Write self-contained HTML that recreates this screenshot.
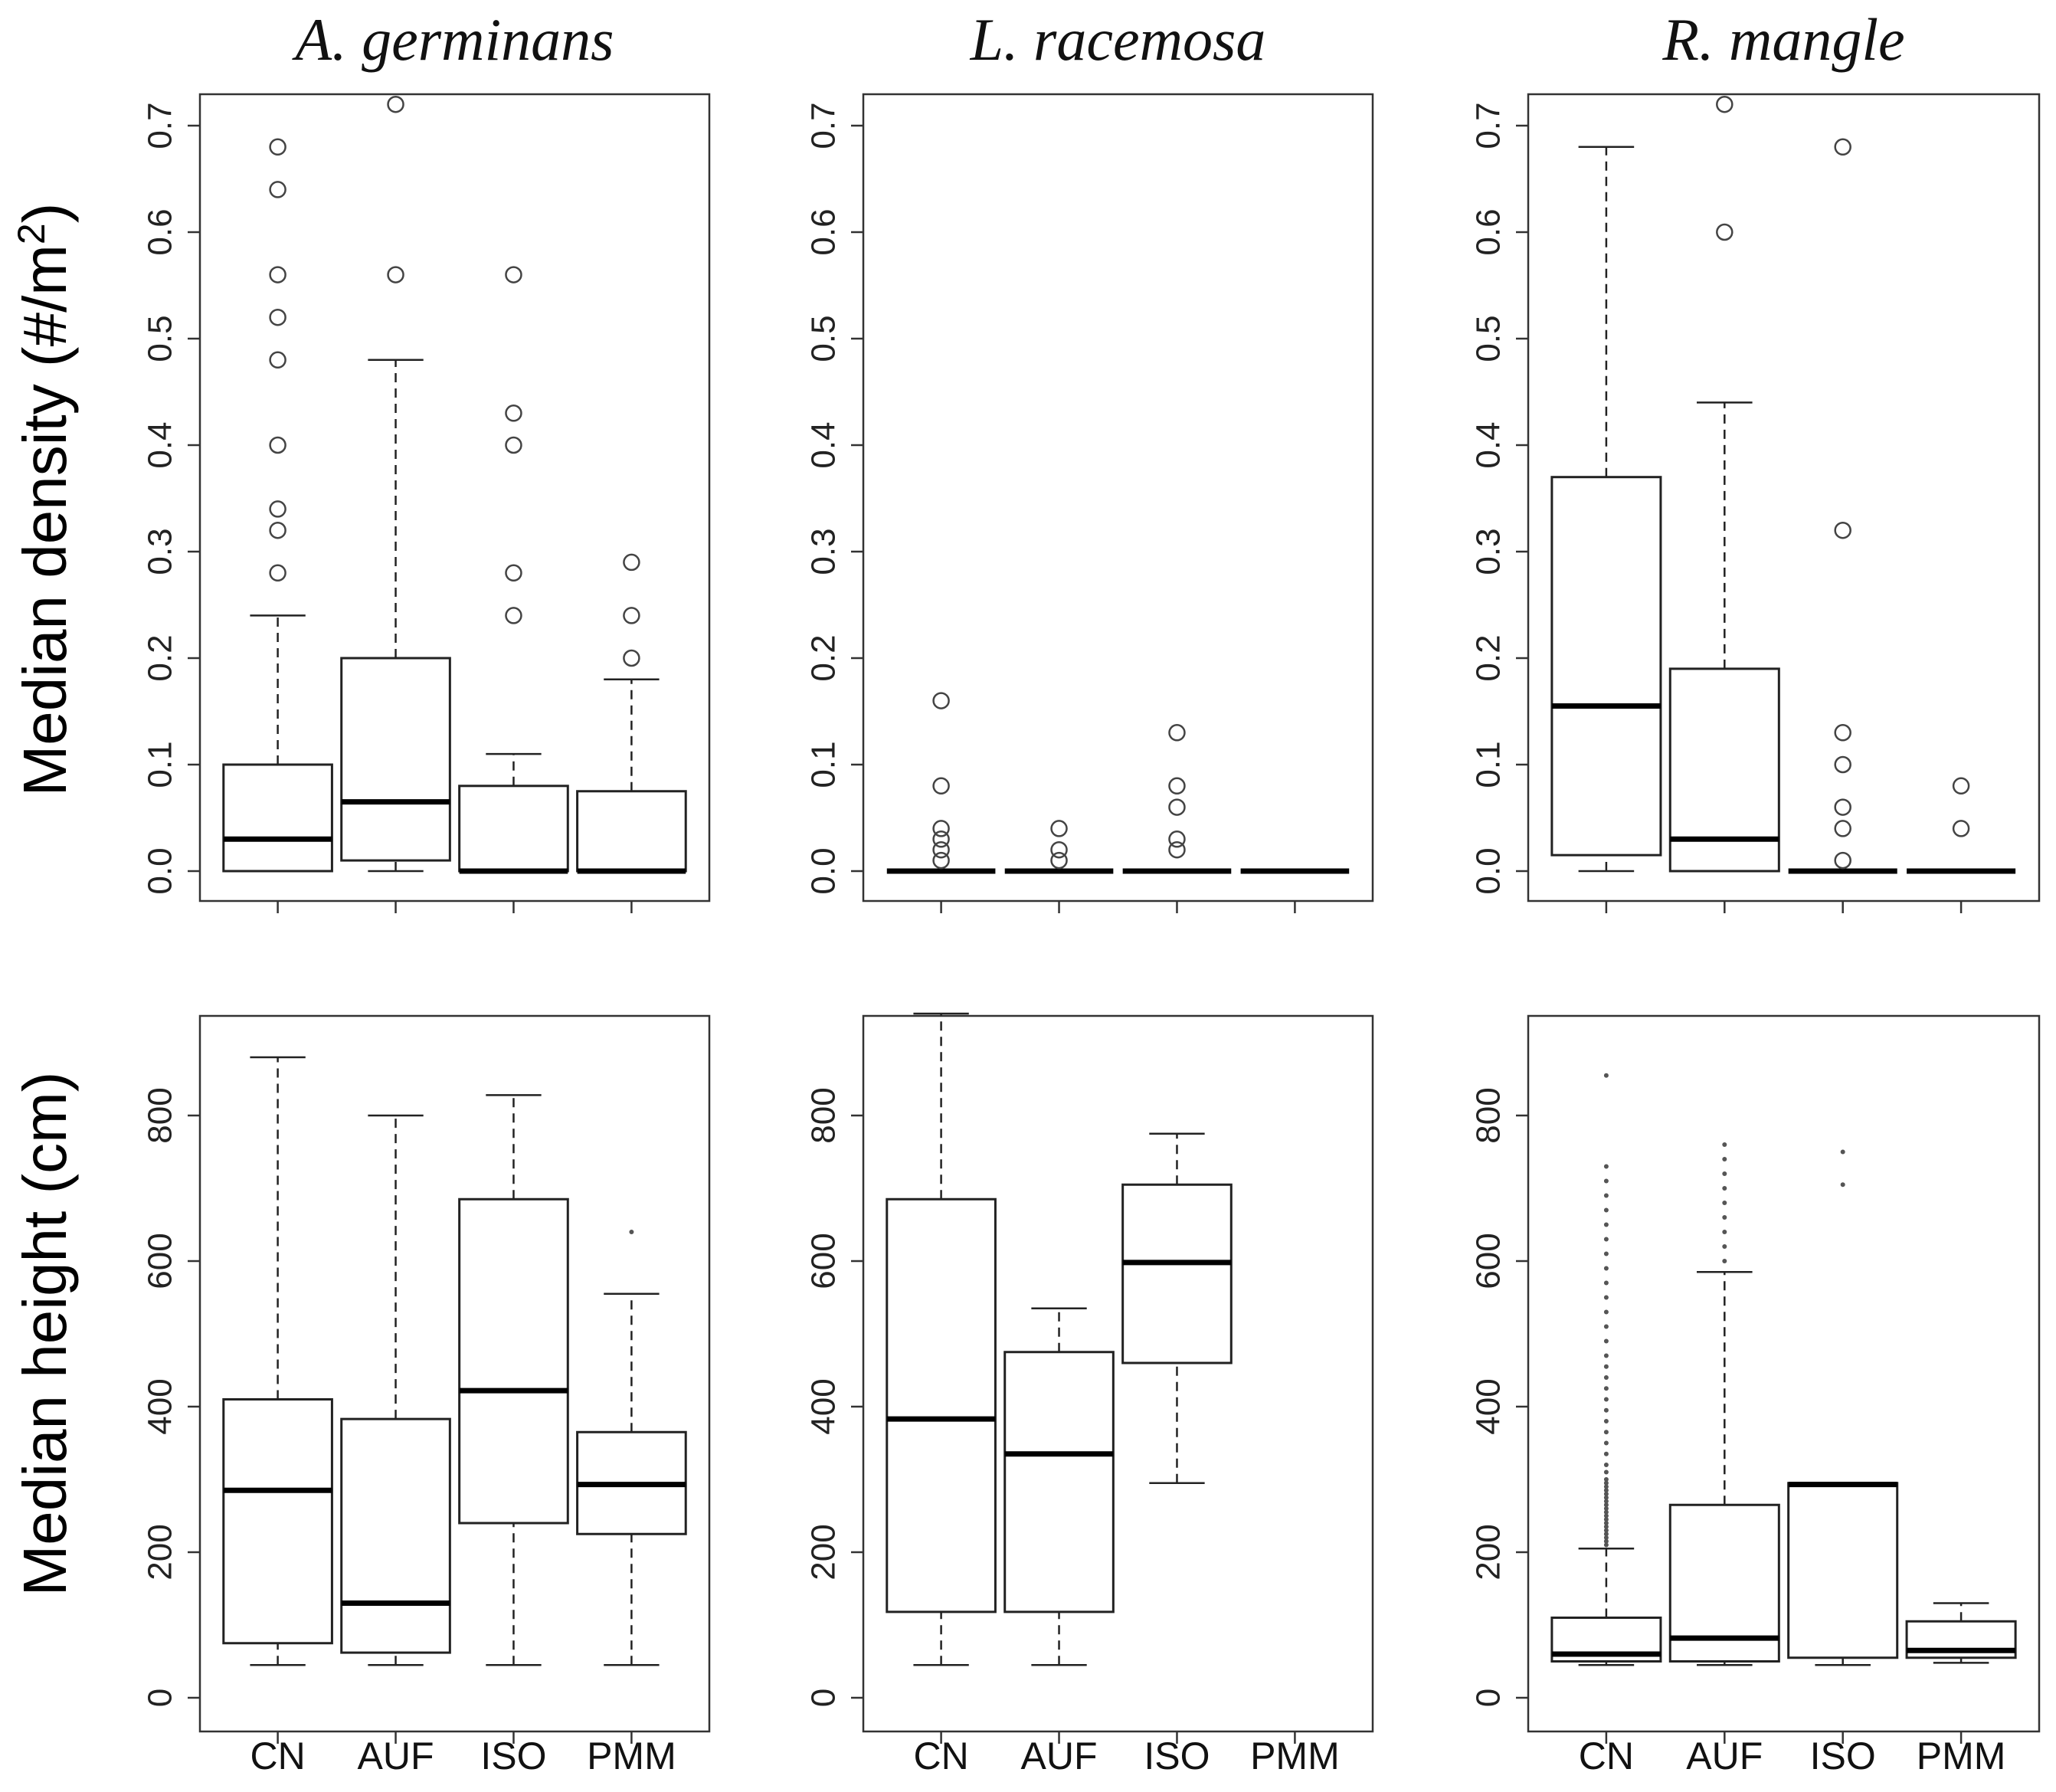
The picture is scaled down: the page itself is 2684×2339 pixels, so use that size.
<!DOCTYPE html>
<html><head><meta charset="utf-8"><style>
html,body{margin:0;padding:0;background:#fff;}
svg{display:block;}
</style></head><body>
<svg id="fig" width="2684" height="2339" viewBox="0 0 2684 2339" xmlns="http://www.w3.org/2000/svg"></svg>
<script>
const categories = ["CN","AUF","ISO","PMM"];
const species = ["A. germinans","L. racemosa","R. mangle"];
const densityTicks = [0,0.1,0.2,0.3,0.4,0.5,0.6,0.7];
const densityTickLabels = ["0.0","0.1","0.2","0.3","0.4","0.5","0.6","0.7"];
const heightTicks = [0,200,400,600,800];
const heightTickLabels = ["0","200","400","600","800"];
// [whiskLow, q1, median, q3, whiskHigh]
const agDensity = [[0,0,0.03,0.1,0.24],[0,0.01,0.065,0.2,0.48],[0,0,0,0.08,0.11],[0,0,0,0.075,0.18]];
const agDensityOut = [[0.28,0.32,0.34,0.40,0.48,0.52,0.56,0.64,0.68],[0.56,0.72],[0.24,0.28,0.40,0.43,0.56],[0.20,0.24,0.29]];
const lrDensity = [[0,0,0,0,0],[0,0,0,0,0],[0,0,0,0,0],[0,0,0,0,0]];
const lrDensityOut = [[0.01,0.02,0.03,0.04,0.08,0.16],[0.01,0.02,0.04],[0.02,0.03,0.06,0.08,0.13],[]];
const rmDensity = [[0,0.015,0.155,0.37,0.68],[0,0,0.03,0.19,0.44],[0,0,0,0,0],[0,0,0,0,0]];
const rmDensityOut = [[],[0.60,0.72],[0.01,0.04,0.06,0.10,0.13,0.32,0.68],[0.04,0.08]];
const agHeight = [[45,75,285,410,880],[45,62,130,383,800],[45,240,422,685,828],[45,225,293,365,555]];
const agHeightOut = [[],[],[],[640]];
const lrHeight = [[45,118,383,685,940],[45,118,335,475,535],[295,460,598,705,775],null];
const lrHeightOut = [[],[],[],[]];
const rmHeight = [[45,50,60,110,205],[45,50,82,265,585],[45,55,293,295,295],[48,55,65,105,130]];
const rmHeightOut = [[210,215,220,225,230,235,240,245,250,255,260,265,270,275,280,285,290,295,300,310,320,335,350,365,380,395,410,425,440,455,470,490,510,530,550,570,590,610,630,650,670,690,710,730,855],[600,620,640,660,680,700,720,740,760],[705,750],[]];

const NS="http://www.w3.org/2000/svg";
const svg=document.getElementById('fig');
function el(tag,attrs,parent){const e=document.createElementNS(NS,tag);for(const k in attrs)e.setAttribute(k,attrs[k]);(parent||svg).appendChild(e);return e;}

const frames=[[261,926],[1127,1792],[1995,2662]];
const rows=[
 {top:123,bottom:1176,y0:1137,perUnit:1390,ticks:densityTicks,labels:densityTickLabels,data:[agDensity,lrDensity,rmDensity],out:[agDensityOut,lrDensityOut,rmDensityOut],circles:true,name:'density'},
 {top:1326,bottom:2260,y0:2216,perUnit:0.95,ticks:heightTicks,labels:heightTickLabels,data:[agHeight,lrHeight,rmHeight],out:[agHeightOut,lrHeightOut,rmHeightOut],circles:false,name:'height'}
];

rows.forEach((r,ri)=>{
 const ys=v=>r.y0-v*r.perUnit;
 frames.forEach((f,pi)=>{
  const g=el('g',{});
  
  
  const unit=(f[1]-f[0])/4.32;
  const xs=i=>f[0]+(i+1-0.34)*unit;
  const fr=el('rect',{x:f[0],y:r.top,width:f[1]-f[0],height:r.bottom-r.top,fill:'none',stroke:'#333',"stroke-width":2.5},g);
  
  
  r.ticks.forEach((t,ti)=>{
   const y=ys(t);
   el('line',{x1:f[0]-16,x2:f[0],y1:y,y2:y,stroke:'#333',"stroke-width":2.5},g);
   const tx=el('text',{x:0,y:0,transform:`translate(${f[0]-52},${y}) rotate(-90)`,"text-anchor":"middle","dominant-baseline":"central","font-family":"Liberation Sans, sans-serif","font-size":44,fill:'#222'},g);
   tx.textContent=r.labels[ti];
   
   
  });
  categories.forEach((c,ci)=>{
   const x=xs(ci);
   el('line',{x1:x,x2:x,y1:r.bottom,y2:r.bottom+16,stroke:'#333',"stroke-width":2.5},g);
   if(ri===1){
    const lt=el('text',{x:x,y:2309,"text-anchor":"middle","font-family":"Liberation Sans, sans-serif","font-size":50,fill:'#111'},g);
    lt.textContent=c;
    
    
   }
   const d=r.data[pi][ci];
   if(d){
    const hw=0.46*unit, cw=0.235*unit;
    const bg=el('g',{},g);
    
    
    el('line',{x1:x,x2:x,y1:ys(d[0]),y2:ys(d[1]),stroke:'#222',"stroke-width":2.5,"stroke-dasharray":"12,8"},bg);
    el('line',{x1:x,x2:x,y1:ys(d[3]),y2:ys(d[4]),stroke:'#222',"stroke-width":2.5,"stroke-dasharray":"12,8"},bg);
    el('line',{x1:x-cw,x2:x+cw,y1:ys(d[0]),y2:ys(d[0]),stroke:'#222',"stroke-width":2.5},bg);
    el('line',{x1:x-cw,x2:x+cw,y1:ys(d[4]),y2:ys(d[4]),stroke:'#222',"stroke-width":2.5},bg);
    el('rect',{x:x-hw,y:ys(d[3]),width:2*hw,height:Math.max(0,ys(d[1])-ys(d[3])),fill:'none',stroke:'#222',"stroke-width":3},bg);
    el('line',{x1:x-hw,x2:x+hw,y1:ys(d[2]),y2:ys(d[2]),stroke:'#000',"stroke-width":7},bg);
   }
   r.out[pi][ci].forEach(v=>{
    const o=r.circles?el('circle',{cx:x,cy:ys(v),r:10,fill:'none',stroke:'#444',"stroke-width":2.5},g)
                      :el('circle',{cx:x,cy:ys(v),r:3,fill:'#555'},g);
    
    
   });
  });
 });
});
species.forEach((s,i)=>{
 const f=frames[i];
 const t=el('text',{x:(f[0]+f[1])/2,y:78,"text-anchor":"middle","font-family":"Liberation Serif, serif","font-style":"italic","font-size":78,fill:'#111'});
 t.textContent=s;
 
 
});
const yl1=el('text',{transform:'translate(86,652) rotate(-90)',"text-anchor":"middle","font-family":"Liberation Sans, sans-serif","font-size":80,fill:'#000'});
yl1.innerHTML='Median density (#/m<tspan font-size="50" dy="-28">2</tspan><tspan dy="28">)</tspan>';


const yl2=el('text',{transform:'translate(86,1741) rotate(-90)',"text-anchor":"middle","font-family":"Liberation Sans, sans-serif","font-size":80,fill:'#000'});
yl2.textContent='Median height (cm)';


</script>
</body></html>
